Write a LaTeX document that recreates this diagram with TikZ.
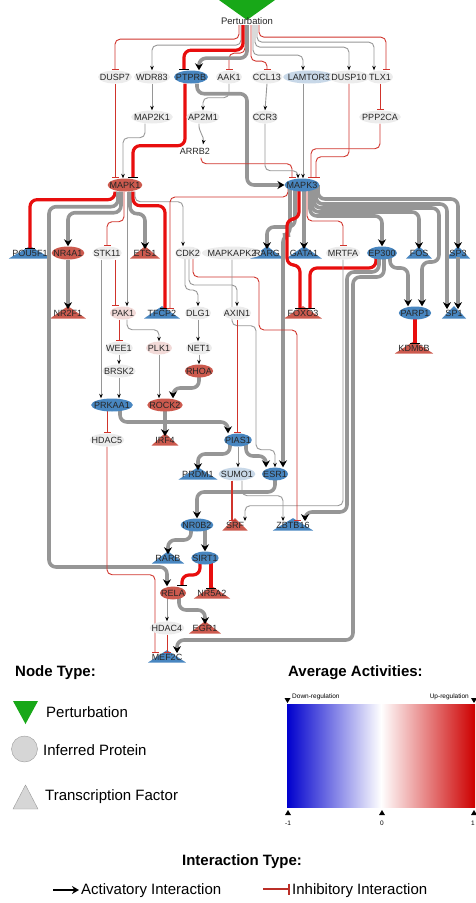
\documentclass[tikz,border=0pt]{standalone}
\usepackage{fontspec}
\setmainfont{Liberation Sans}
\usetikzlibrary{arrows.meta,calc,shapes.geometric}

\definecolor{nodeblue}{RGB}{72,134,192}
\definecolor{nodered}{RGB}{204,90,78}
\definecolor{nodegray}{RGB}{236,236,236}
\definecolor{nodepink}{RGB}{242,218,216}
\definecolor{nodepale}{RGB}{200,216,232}
\definecolor{edgegray}{RGB}{150,150,150}
\definecolor{inhred}{RGB}{208,52,44}
\definecolor{inhbright}{RGB}{232,14,14}
\definecolor{pertgreen}{RGB}{24,168,24}
\definecolor{barblue}{RGB}{0,0,205}
\definecolor{barred}{RGB}{205,0,0}

\pgfdeclarelayer{tri}
\pgfdeclarelayer{wires}
\pgfsetlayers{tri,wires,main}

\tikzset{
  lbl/.style={inner sep=0.5pt, font=\fontsize{9}{10}\selectfont, text=black!85},
  prot/.style={lbl, ellipse, fill=#1, inner xsep=-3pt, inner ysep=0pt, minimum height=13pt, minimum width=26pt},
  act/.style={draw=edgegray, line width=0.9pt, rounded corners=5pt, -{Stealth[length=4.5pt,width=3.6pt,color=black]}},
  actw/.style={draw=edgegray, line width=3.6pt, rounded corners=7pt, -{Stealth[length=7pt,width=8pt,color=black]}},
  inh/.style={draw=inhred, line width=0.9pt, rounded corners=5pt, -{Bar[width=7pt,line width=1.2pt]}},
  inhw/.style={draw=inhbright, line width=3.2pt, rounded corners=7pt, -{Bar[width=10pt,line width=1.6pt,color=black]}},
  legtitle/.style={font=\fontsize{15}{17}\selectfont\bfseries, anchor=west, inner sep=0pt},
  legtext/.style={font=\fontsize{15}{17}\selectfont, anchor=west, inner sep=0pt},
  scaletext/.style={font=\fontsize{6.5}{7}\selectfont, inner sep=0pt},
}

% transcription factor: label over a flat triangle
\newcommand{\tfnode}[5]{%
  \node[lbl] (#1) at (#2,#3) {#4};
  \begin{pgfonlayer}{tri}
    \fill[#5] ($(#1.west)+(-3,5.5)$) -- ($(#1.north)+(0,-3)$) -- ($(#1.east)+(3,5.5)$) -- cycle;
  \end{pgfonlayer}}

\begin{document}
\begin{tikzpicture}[x=1pt,y=-1pt]
\useasboundingbox (0,0) rectangle (475,903);

% perturbation
\fill[pertgreen] (219,0) -- (275,0) -- (247,20) -- cycle;
\node[lbl, font=\fontsize{9.5}{10}\selectfont] (pert) at (247,21) {Perturbation};

% first rows
\node[prot=nodegray] (dusp7) at (115,77) {DUSP7};
\node[prot=nodegray] (wdr83) at (152,77) {WDR83};
\node[prot=nodeblue] (ptprb) at (191,77) {PTPRB};
\node[prot=nodegray] (aak1) at (229,77) {AAK1};
\node[prot=nodegray] (ccl13) at (267,77) {CCL13};
\node[prot=nodepale] (lamtor3) at (309,77) {LAMTOR3};
\node[prot=nodegray] (dusp10) at (349,77) {DUSP10};
\node[prot=nodegray] (tlx1) at (380,77) {TLX1};

\node[prot=nodegray] (map2k1) at (152,117) {MAP2K1};
\node[prot=nodegray] (ap2m1) at (203,117) {AP2M1};
\node[prot=nodegray] (ccr3) at (265,117) {CCR3};
\node[prot=nodegray] (ppp2ca) at (380,117) {PPP2CA};
\node[prot=white] (arrb2) at (195,151) {ARRB2};

\node[prot=nodered] (mapk1) at (125,185) {MAPK1};
\node[prot=nodeblue] (mapk3) at (302,185) {MAPK3};

% targets of the kinases
\tfnode{pou5f1}{30}{253}{POU5F1}{nodeblue}
\node[prot=nodered] (nr4a1) at (68,253) {NR4A1};
\node[prot=nodegray] (stk11) at (107,253) {STK11};
\tfnode{ets1}{145}{253}{ETS1}{nodered}
\node[prot=nodegray] (cdk2) at (188,253) {CDK2};
\node[prot=nodegray] (mapkapk2) at (232,253) {MAPKAPK2};
\tfnode{rarg}{267}{253}{RARG}{nodeblue}
\tfnode{gata1}{304}{253}{GATA1}{nodeblue}
\node[prot=nodegray] (mrtfa) at (343,253) {MRTFA};
\node[prot=nodeblue] (ep300) at (382,253) {EP300};
\tfnode{fos}{419}{253}{FOS}{nodeblue}
\tfnode{sp3}{458}{253}{SP3}{nodeblue}

\tfnode{nr2f1}{68}{313}{NR2F1}{nodered}
\node[prot=nodepink] (pak1) at (123,313) {PAK1};
\tfnode{tfcp2}{162}{313}{TFCP2}{nodeblue}
\node[prot=nodegray] (dlg1) at (198,313) {DLG1};
\node[prot=nodegray] (axin1) at (237,313) {AXIN1};
\tfnode{foxo3}{303}{313}{FOXO3}{nodered}
\node[prot=nodeblue] (parp1) at (415,313) {PARP1};
\tfnode{sp1}{454}{313}{SP1}{nodeblue}

\node[prot=nodegray] (wee1) at (119,348) {WEE1};
\node[prot=nodepink] (plk1) at (159,348) {PLK1};
\node[prot=nodegray] (net1) at (199,348) {NET1};
\tfnode{kdm6b}{414}{348}{KDM6B}{nodered}
\node[prot=nodegray] (brsk2) at (119,371) {BRSK2};
\node[prot=nodered] (rhoa) at (199,371) {RHOA};

\node[prot=nodeblue] (prkaa1) at (112,405) {PRKAA1};
\node[prot=nodered] (rock2) at (165,405) {ROCK2};
\node[prot=nodegray] (hdac5) at (107,440) {HDAC5};
\tfnode{irf4}{165}{440}{IRF4}{nodered}
\node[prot=nodeblue] (pias1) at (238,440) {PIAS1};

\tfnode{prdm1}{198}{474}{PRDM1}{nodeblue}
\node[prot=nodepale] (sumo1) at (237,474) {SUMO1};
\node[prot=nodeblue] (esr1) at (275,474) {ESR1};

\node[prot=nodeblue] (nr0b2) at (197,525) {NR0B2};
\tfnode{srf}{235}{525}{SRF}{nodered}
\tfnode{zbtb16}{293}{525}{ZBTB16}{nodeblue}
\tfnode{rarb}{168}{558}{RARB}{nodeblue}
\node[prot=nodeblue] (sirt1) at (205,558) {SIRT1};
\node[prot=nodered] (rela) at (173,593) {RELA};
\tfnode{nr5a2}{212}{593}{NR5A2}{nodered}
\node[prot=nodegray] (hdac4) at (167,628) {HDAC4};
\tfnode{egr1}{205}{628}{EGR1}{nodered}
\tfnode{mef2c}{167}{657}{MEF2C}{nodeblue}

\begin{pgfonlayer}{wires}
% from the perturbation
\draw[inh] ([xshift=-8pt]pert.south) -- ++(0,14) -| (dusp7.north);
\draw[act] ([xshift=-6pt]pert.south) -- ++(0,20) -| (wdr83.north);
\draw[inhw] ([xshift=-4pt]pert.south) -- ++(0,25) -| ([xshift=-7pt]ptprb.north);
\draw[inh] ([xshift=-2pt]pert.south) -- ++(0,28) -| (aak1.north);
\draw[actw] (pert.south) -- ++(0,33) -| ([xshift=8pt]ptprb.north);
\draw[inh] ([xshift=4pt]pert.south) -- ++(0,36) -| (ccl13.north);
\draw[act] ([xshift=6pt]pert.south) -- ++(0,30) -| ([xshift=-6pt]lamtor3.north);
\draw[act] ([xshift=8pt]pert.south) -- ++(0,22) -| (dusp10.north);
\draw[act] ([xshift=10pt]pert.south) -- ++(0,17) -| ([xshift=-6pt]tlx1.north);
\draw[inh] ([xshift=12pt]pert.south) -- ++(0,12) -| ([xshift=6pt]tlx1.north);

% upstream of the kinases
\draw[inh] (dusp7.south) -- (dusp7.south |- mapk1.north);
\draw[act] (wdr83.south) -- (map2k1.north);
\draw[act] ([xshift=-7pt]map2k1.south) -- ++(0,14) -| ([xshift=-2pt]mapk1.north);
\draw[inhw] ([xshift=-6pt]ptprb.south) -- ++(0,62) -| ([xshift=8pt]mapk1.north);
\draw[actw] ([xshift=6pt]ptprb.south) -- ++(0,10) -- ++(50,0) |- (mapk3.west);
\draw[act] (aak1.south) -- ++(0,14) -| (ap2m1.north);
\draw[act] ([xshift=-4pt]ap2m1.south) to[out=-95,in=80] ([xshift=8pt]arrb2.north);
\draw[inh] ([xshift=6pt]arrb2.south) -- ++(0,6) -| ([xshift=-10pt]mapk3.north);
\draw[act] (ccl13.south) -- (ccr3.north);
\draw[act] (ccr3.south) -- ++(0,47) -| ([xshift=-4pt]mapk3.north);
\draw[act] ([xshift=-6pt]lamtor3.south) -- ([xshift=1pt]mapk3.north);
\draw[inh] (dusp10.south) -- ++(0,73) -| ([xshift=14pt]mapk3.north);
\draw[inh] (tlx1.south) -- (ppp2ca.north);
\draw[inh] (ppp2ca.south) -- ++(0,25) -| ([xshift=9pt]mapk3.north);

% MAPK1 targets
\draw[inhw] ([xshift=-10pt]mapk1.south) -- ++(0,8) -| (pou5f1.north);
\draw[actw] ([xshift=-7pt]mapk1.south) -- ++(0,15) -| (49,567) -| ([xshift=-6pt]rela.north);
\draw[actw] ([xshift=-4pt]mapk1.south) -- ++(0,21) -| (nr4a1.north);
\draw[inh] ([xshift=-1pt]mapk1.south) -- ++(0,30) -| (stk11.north);
\draw[act] ([xshift=2pt]mapk1.south) -- ([xshift=2pt]mapk1.south |- pak1.north);
\draw[actw] ([xshift=5pt]mapk1.south) -- ++(0,22) -| (ets1.north);
\draw[inhw] ([xshift=8pt]mapk1.south) -- ++(0,14) -| ([xshift=3pt]tfcp2.north);
\draw[act] ([xshift=10pt]mapk1.south) -- ++(0,10) -| ([xshift=-5pt]cdk2.north);

% MAPK3 targets
\draw[inh] ([xshift=-14pt]mapk3.center) -- ++(0,12) -| ([xshift=8pt]tfcp2.north);
\draw[actw] ([xshift=-12pt]mapk3.center) -- ++(0,50) -| ([xshift=8pt]esr1.north);
\draw[actw] ([xshift=-7pt]mapk3.center) -- ++(0,42) -| (rarg.north);
\draw[inhw] ([xshift=-3pt]mapk3.center) -- ++(0,34) -- ++(-12,0) -- ++(0,46) -| ([xshift=-3pt]foxo3.north);
\draw[actw] ([xshift=2pt]mapk3.center) -- ([xshift=2pt]mapk3.center |- gata1.north);
\draw[inh] ([xshift=5pt]mapk3.center) -- ++(0,36) -| (mrtfa.north);
\draw[actw] ([xshift=8pt]mapk3.center) -- ++(0,31) -| (ep300.north);
\draw[actw] ([xshift=10pt]mapk3.center) -- ++(0,27) -| (fos.north);
\draw[actw] ([xshift=12pt]mapk3.center) -- ++(0,23) -- ++(125,0) -- ++(0,54) -| ([xshift=7pt]parp1.north);
\draw[actw] ([xshift=14pt]mapk3.center) -- ++(0,19) -| ([xshift=-7pt]sp1.north);
\draw[actw] ([xshift=16pt]mapk3.center) -- ++(0,14) -| (sp3.north);

% EP300 and its neighbours
\draw[inhw] ([xshift=-6pt]ep300.center) -- ++(0,15) -| ([xshift=7pt]foxo3.north);
\draw[actw] ([xshift=-3pt]ep300.center) -- ++(0,19) -| (347,512) -| ([xshift=12pt]zbtb16.north);
\draw[actw] ([xshift=2pt]ep300.center) -- ++(0,24) -| (353,640) -| ([xshift=10pt]mef2c.north);
\draw[actw] ([xshift=8pt]ep300.center) -- ++(0,15) -| ([xshift=-7pt]parp1.north);
\draw[inhw] (parp1.center) -- (parp1.center |- kdm6b.north);
\draw[actw] (sp3.south) -- (sp3.south |- sp1.north);
\draw[act] (mrtfa.south) -- ++(0,246) -| ([xshift=10pt]srf.north);

% middle cascade
\draw[actw] (nr4a1.south) -- (nr2f1.north);
\draw[act] ([xshift=-6pt]stk11.south) -- ([xshift=-6pt]stk11.south |- prkaa1.north);
\draw[inh] ([xshift=8pt]stk11.south) -- ([xshift=8pt]stk11.south |- pak1.north);
\draw[inh] ([xshift=-4pt]pak1.south) -- (wee1.north);
\draw[act] ([xshift=4pt]pak1.south) -- ++(0,10) -| (plk1.north);
\draw[act] (wee1.south) -- (brsk2.north);
\draw[act] (brsk2.south) -- (brsk2.south |- prkaa1.north);
\draw[act] (plk1.south) -- (plk1.south |- rock2.north);
\draw[act] ([xshift=-3pt]cdk2.center) -- ++(0,37) -| (dlg1.north);
\draw[act] ([xshift=1pt]cdk2.center) -- ++(0,32) -| (axin1.north);
\draw[inh] ([xshift=5pt]cdk2.center) -- ++(0,24) -- ++(66,0) -- ++(0,53) -| ([xshift=4pt]zbtb16.north);
\draw[act] (mapkapk2.south) -- ++(0,66) -- ++(24,0) -- ++(0,124) -| (esr1.north);
\draw[act] (dlg1.south) -- (dlg1.south |- net1.north);
\draw[act] (net1.south) -- (net1.south |- rhoa.north);
\draw[actw] (rhoa.center) -- ++(0,17) -| ([xshift=8pt]rock2.north);
\draw[actw] (rock2.center) -- (rock2.center |- irf4.north);
\draw[inh] ([xshift=-5pt]prkaa1.center) -- (hdac5.north);
\draw[actw] ([xshift=8pt]prkaa1.center) -- ++(0,17) -| ([xshift=-10pt]pias1.north);
\draw[inh] (axin1.south) -- (axin1.south |- pias1.north);
\draw[actw] ([xshift=-8pt]pias1.center) -- ++(0,14) -| (prdm1.north);
\draw[act] (pias1.south) -- (pias1.south |- sumo1.north);
\draw[actw] ([xshift=8pt]pias1.center) -- ++(0,16) -| ([xshift=-9pt]esr1.north);

% lower cascade
\draw[actw] (esr1.center) -- ++(0,18) -| (nr0b2.north);
\draw[inh, line width=2pt] ([xshift=-5pt]sumo1.south) -- ([xshift=-5pt]sumo1.south |- srf.north);
\draw[act] ([xshift=5pt]sumo1.south) -- ++(0,15) -| ([xshift=-10pt]zbtb16.north);
\draw[actw] ([xshift=-6pt]nr0b2.center) -- ++(0,15) -| (rarb.north);
\draw[actw] ([xshift=8pt]nr0b2.center) -- ([xshift=8pt]nr0b2.center |- sirt1.north);
\draw[inhw] ([xshift=-5pt]sirt1.center) -- ++(0,17) -| ([xshift=9pt]rela.north);
\draw[inhw] ([xshift=6pt]sirt1.center) -- ([xshift=6pt]sirt1.center |- nr5a2.north);
\draw[act] ([xshift=-6pt]rela.center) -- ([xshift=-6pt]rela.center |- hdac4.north);
\draw[actw] ([xshift=6pt]rela.center) -- ++(0,17) -| (egr1.north);
\draw[inh] (hdac4.south) -- (hdac4.south |- mef2c.north);
\draw[inh] (hdac5.south) -- ++(0,128) -| ([xshift=-12pt]mef2c.north);
\end{pgfonlayer}

% legend: node types
\node[legtitle] (nodetype) at (15,673) {Node Type:};
\fill[pertgreen] (13,701) -- (38,701) -- (25.5,724) -- cycle;
\node[legtext] (legpert) at (46,712) {Perturbation};
\draw[gray!80, fill=black!16] (24.5,749) circle[radius=13pt];
\node[legtext] (legprot) at (43,750) {Inferred Protein};
\draw[gray!80, fill=black!16] (13,809) -- (38,809) -- (25.5,785) -- cycle;
\node[legtext] (legtf) at (45,797) {Transcription Factor};

% legend: activity scale
\node[legtitle] (avgact) at (288,673) {Average Activities:};
\shade[left color=barblue, right color=barred, middle color=white] (287,704) rectangle (475,807);
\node[scaletext, anchor=west] (downreg) at (292,697) {Down-regulation};
\node[scaletext, anchor=east] (upreg) at (469,697) {Up-regulation};
\fill (284.5,698) -- (290.5,698) -- (287.5,703) -- cycle;
\fill (471,698) -- (477,698) -- (474,703) -- cycle;
\fill (285,815) -- (291,815) -- (288,810) -- cycle;
\fill (379,815) -- (385,815) -- (382,810) -- cycle;
\fill (471,815) -- (477,815) -- (474,810) -- cycle;
\node[scaletext] (lowend) at (288,823) {-1};
\node[scaletext] (midpt) at (382,823) {0};
\node[scaletext] (highend) at (473,823) {1};

% legend: interaction types
\node[legtitle, anchor=center] (inttype) at (242,862) {Interaction Type:};
\draw[line width=2pt, -{Stealth[length=7pt,width=8pt]}] (53,890) -- (79,890);
\node[legtext] (legact) at (81,891) {Activatory Interaction};
\draw[inhred!90!black, line width=2pt, -{Bar[width=11pt,line width=2.2pt]}] (263,889) -- (290,889);
\node[legtext] (leginh) at (292,891) {Inhibitory Interaction};
\end{tikzpicture}
\end{document}
